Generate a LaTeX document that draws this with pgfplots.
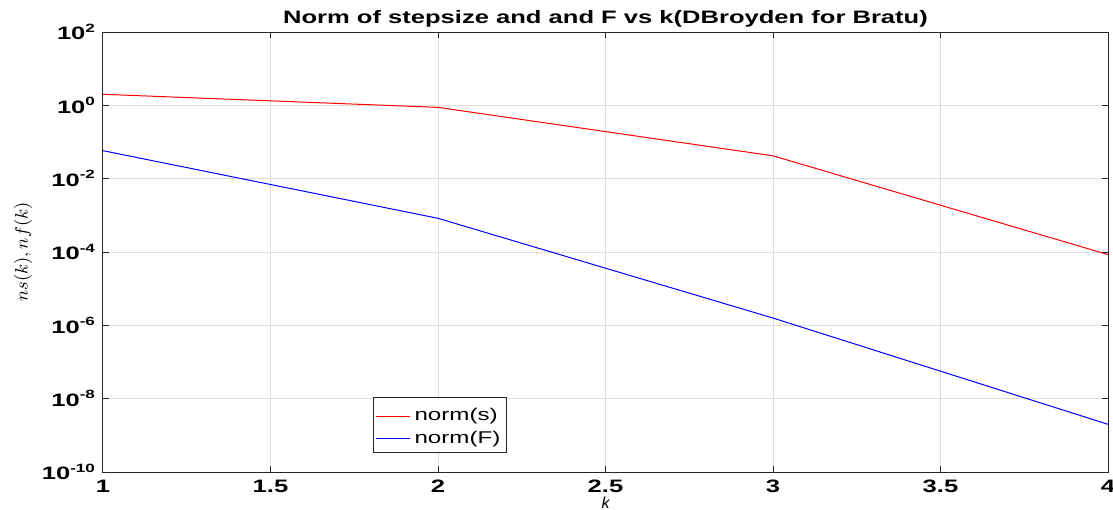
\documentclass[border=0pt]{standalone}
\usepackage{pgfplots}
\pgfplotsset{compat=1.18}
\usepackage{fontspec}
\setmainfont{Liberation Sans}
\newfontfamily\mywidefont[FakeStretch=1.42]{Liberation Sans}
\definecolor{axgray}{RGB}{38,38,38}
\definecolor{gridgray}{RGB}{222,222,222}
\definecolor{mred}{RGB}{255,0,0}
\definecolor{mblue}{RGB}{0,0,255}
\begin{document}
\begin{tikzpicture}
\begin{axis}[
  name=ax,
  scale only axis,
  width=502.5pt, height=220pt,
  xmin=1, xmax=4,
  ymode=log, ymin=1e-10, ymax=1e2,
  xtick={1,1.5,2,2.5,3,3.5,4},
  xticklabels={1,1.5,2,2.5,3,3.5,4},
  ytick={1e-10,1e-8,1e-6,1e-4,1e-2,1,1e2},
  yticklabels={10\textsuperscript{-10},10\textsuperscript{-8},10\textsuperscript{-6},10\textsuperscript{-4},10\textsuperscript{-2},10\textsuperscript{0},10\textsuperscript{2}},
  minor ytick={},
  tick label style={font=\mywidefont\bfseries\fontsize{9}{10}\selectfont},
  xticklabel style={yshift=-0.5pt},
  ymajorgrids, xmajorgrids,
  grid style={gridgray, line width=0.5pt},
  axis line style={axgray, line width=0.5pt},
  major tick style={axgray, line width=0.5pt},
  major tick length=3pt,
  tick align=inside,
  xtick pos=both, ytick pos=both,
  title={Norm of stepsize and and F vs k(DBroyden for Bratu)},
  title style={font=\mywidefont\bfseries\fontsize{9}{10}\selectfont, yshift=-7pt},
  xlabel={$\mathbf{\mathit{k}}$},
  ylabel={$ns(k), nf(k)$},
  xlabel style={at={(axis description cs:0.5,0)}, anchor=base, yshift=-18.3pt, font=\footnotesize},
  ylabel style={yshift=-2pt, font=\small},
  legend style={at={(axis cs:1.806,1.1e-8)}, anchor=north west, draw=axgray, fill=white, font=\mywidefont\fontsize{8.5}{10}\selectfont, inner sep=1pt, row sep=-3pt, legend cell align=left},
  legend image code/.code={\draw[#1] (0cm,0cm) -- (0.6cm,0cm);},
]
\addlegendimage{white, line width=0.1pt}
\addlegendentry{}
\addplot[color=mred, line width=0.5pt] coordinates {(1,2.0) (2,0.88) (3,0.042) (4,8.5e-5)};
\addlegendentry{norm(s)}
\addlegendimage{white, line width=0.1pt}
\addlegendentry{}
\addplot[color=mblue, line width=0.5pt] coordinates {(1,0.058) (2,8.3e-4) (3,1.58e-6) (4,2.0e-9)};
\addlegendentry{norm(F)}
\end{axis}
\pgfresetboundingbox
\path ([shift={(-51.5pt,-18.5pt)}]ax.south west) rectangle ([shift={(2.5pt,16pt)}]ax.north east);
\end{tikzpicture}
\end{document}
